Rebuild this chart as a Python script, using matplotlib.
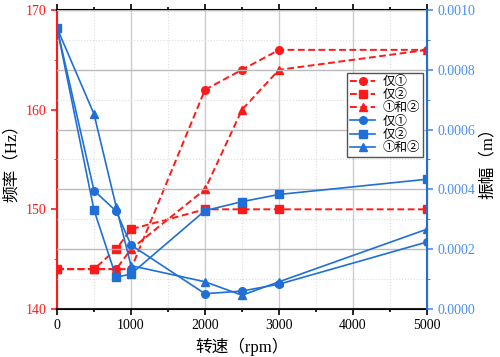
import numpy as np
import matplotlib.pyplot as plt
from matplotlib.ticker import MultipleLocator, FuncFormatter

plt.rcParams['font.family'] = ['Liberation Serif', 'Noto Sans CJK SC', 'DejaVu Sans']

speed = [0, 500, 800, 1000, 2000, 2500, 3000, 5000]

# frequency (Hz), left axis
freq_1 = [144, 144, 144, 144, 162, 164, 166, 166]
freq_2 = [144, 144, 146, 148, 150, 150, 150, 150]
freq_12 = [144, 144, 144, 146, 152, 160, 164, 166]

# amplitude (m), right axis
amp_1 = [0.00094, 0.000396, 0.000327, 0.000214, 0.000051, 0.00006, 0.000083, 0.000224]
amp_2 = [0.00094, 0.000331, 0.000106, 0.000117, 0.000329, 0.000359, 0.000383, 0.000434]
amp_12 = [0.00094, 0.000652, 0.000342, 0.000145, 0.000091, 0.000046, 0.000091, 0.000267]

labels = ["仅①", "仅②", "①和②"]
markers = ["o", "s", "^"]

red = "#ff1a1a"
blue = "#1f6fd6"
tick_blue = "#4a8ff0"

fig = plt.figure(figsize=(5, 3.57), dpi=100)
ax = fig.add_axes([0.114, 0.1345, 0.74, 0.8375])
ax2 = ax.twinx()

handles = []
for y, lab, m in zip([freq_1, freq_2, freq_12], labels, markers):
    h, = ax.plot(speed, y, color=red, ls="--", lw=1.4, marker=m, ms=5.5,
                 dashes=(3.5, 1.8), label=lab)
    handles.append(h)
for y, lab, m in zip([amp_1, amp_2, amp_12], labels, markers):
    h, = ax2.plot(speed, y, color=blue, ls="-", lw=1.2, marker=m, ms=5.5,
                  label=lab)
    handles.append(h)

ax.set_xlim(0, 5000)
ax.set_ylim(140, 170)
ax2.set_ylim(0, 0.001)

ax.xaxis.set_major_locator(MultipleLocator(1000))
ax.xaxis.set_minor_locator(MultipleLocator(500))
ax.yaxis.set_major_locator(MultipleLocator(10))
ax.yaxis.set_minor_locator(MultipleLocator(5))
ax2.yaxis.set_major_locator(MultipleLocator(0.0002))
ax2.yaxis.set_minor_locator(MultipleLocator(0.0001))
ax2.yaxis.set_major_formatter(FuncFormatter(lambda v, p: f"{v:.4f}"))

# grid from the right axis and x axis
ax.xaxis.grid(True, which="major", color="#cccccc", lw=1.0)
ax.xaxis.grid(True, which="minor", color="#dddddd", lw=0.8, ls=":")
ax2.yaxis.grid(True, which="major", color="#bbbbbb", lw=1.0)
ax2.yaxis.grid(True, which="minor", color="#dddddd", lw=0.8, ls=":")
ax.set_axisbelow(True)
ax2.set_axisbelow(True)

ax.spines["left"].set_color(red)
ax.spines["left"].set_linewidth(1.5)
ax.spines["bottom"].set_linewidth(1.5)
ax.spines["top"].set_linewidth(1.5)
ax2.spines["right"].set_color(blue)
ax2.spines["right"].set_linewidth(1.5)
for s in ["left", "bottom", "top"]:
    ax2.spines[s].set_visible(False)

ax.tick_params(axis="y", colors=red, labelsize=10, length=4, width=1.2)
ax.tick_params(axis="y", which="minor", colors=red, length=2)
ax.tick_params(axis="x", which="both", top=True, direction="out", labelsize=10, length=4, width=1.2)
ax.tick_params(axis="x", which="minor", length=2)
ax2.tick_params(axis="y", colors=tick_blue, labelsize=10, length=4, width=1.2)
ax2.tick_params(axis="y", which="minor", colors=blue, length=2)
for t in ax2.yaxis.get_ticklines(minor=False) + ax2.yaxis.get_ticklines(minor=True):
    t.set_color(blue)

ax.set_xlabel("转速（rpm）", fontsize=12, labelpad=4)
ax.set_ylabel("频率（Hz）", fontsize=12, labelpad=4)
ax2.set_ylabel("振幅（m）", fontsize=12, labelpad=3)

leg = ax2.legend(handles=handles, loc="upper right", bbox_to_anchor=(0.99, 0.79),
                 fontsize=9, frameon=True, fancybox=False, framealpha=1,
                 edgecolor="#555555", borderpad=0.25, labelspacing=0.1,
                 handlelength=2.0, handletextpad=0.6, borderaxespad=0)
leg.get_frame().set_linewidth(1.0)

fig.savefig("out.png", dpi=100)
